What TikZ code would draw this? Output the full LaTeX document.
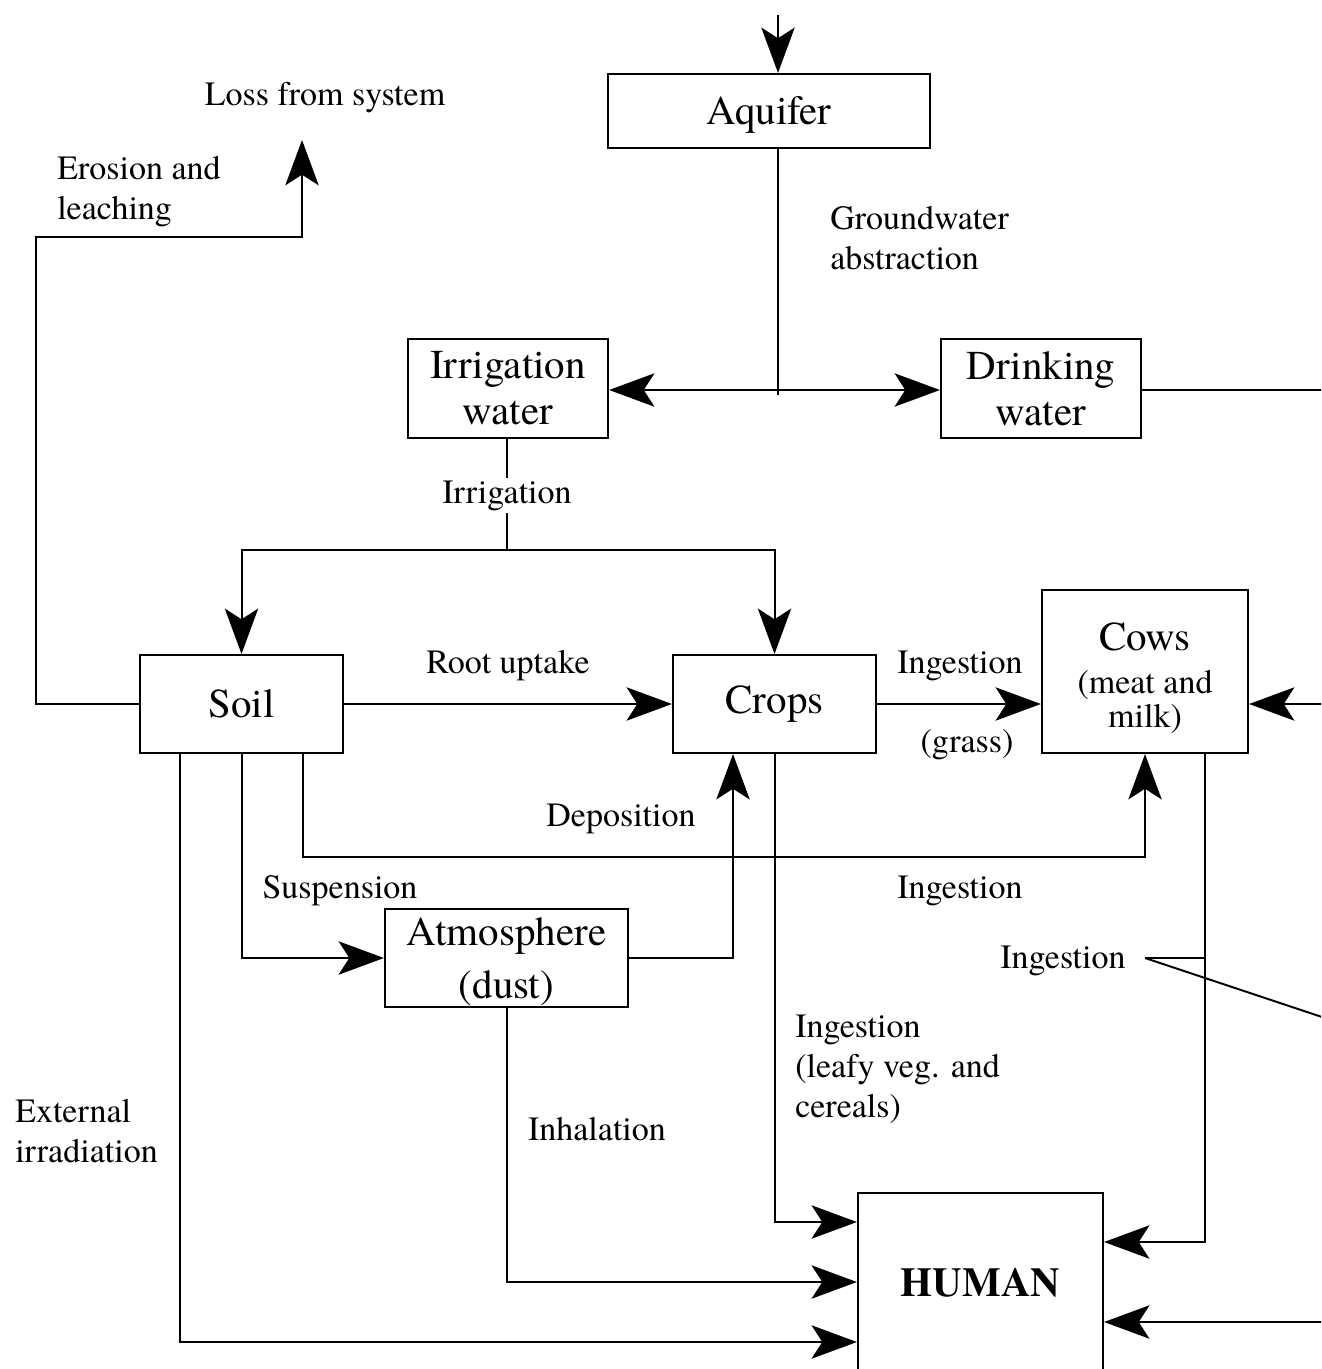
\documentclass[tikz,border=0pt]{standalone}
\usepackage{fontspec}
\setmainfont{texgyretermes}[Extension=.otf, UprightFont=*-regular, BoldFont=*-bold, ItalicFont=*-italic, BoldItalicFont=*-bolditalic]
\usetikzlibrary{arrows.meta,calc}
\begin{document}
\begin{tikzpicture}[x=0.75pt,y=-0.75pt,
  box/.style={draw, line width=1.6pt, inner sep=0pt, align=center, font=\fontsize{30.75}{34.5}\selectfont},
  lbl/.style={inner sep=0pt, font=\fontsize{25.5}{30}\selectfont},
  flow/.style={line width=1.5pt, -{Stealth[length=34pt,width=25pt,inset=8pt]}},
  plain/.style={line width=1.5pt}]
\useasboundingbox (0,0) rectangle (1321,1369);
\clip (0,0) rectangle (1321,1369);

% boxes
\node[box, minimum width=241.5pt, minimum height=55.5pt, text depth=0pt] (aq) at (769,111) {Aquifer};
\node[box, minimum width=150pt, minimum height=74.25pt] (irr) at (508,388.5) {Irrigation\\water};
\node[box, minimum width=150pt, minimum height=74.25pt] (drk) at (1041,388.5) {Drinking\\water};
\node[box, minimum width=152.25pt, minimum height=73.5pt] (soil) at (241.5,704) {Soil};
\node[box, minimum width=152.25pt, minimum height=73.5pt] (crops) at (774.5,704) {Crops};
\node[box, minimum width=154.5pt, minimum height=122.25pt, font=\fontsize{25.5}{26}\selectfont] (cows) at (1145,671.5)
  {{\fontsize{30.75}{34}\selectfont\rule{0pt}{31pt}Cows}\\[6pt](meat and\\milk)};
\node[box, minimum width=182.25pt, minimum height=73.5pt, text depth=0pt] (atm) at (506.5,958) {Atmosphere\\[5pt](dust)};
\node[box, minimum width=183.75pt, minimum height=135pt, font=\fontsize{30.75}{34.5}\selectfont\bfseries] (human) at (980.5,1283) {HUMAN};

% free ends
\coordinate (topin) at (778,15);
\coordinate (split) at (778,390);
\coordinate (drkout) at (1325,390);
\coordinate (irrj) at (507,550);
\coordinate (cowsin) at (1325,704);
\coordinate (loss) at (302,140);
\coordinate (humin) at (1325,1322);
\coordinate (ingj) at (1145,958);
\coordinate (ingk) at (1205,958);
\coordinate (ingout) at (1325,1018);

% connectors
\draw[flow] (topin) -- (topin |- aq.north);
\draw[plain] (topin |- aq.south) -- ($(split)+(0,5)$);
\draw[flow] (split) -- (split -| irr.east);
\draw[flow] (split) -- (split -| drk.west);
\draw[plain] (drk.east |- split) -- (drkout);

\draw[plain] (irrj |- irr.south) -- (irrj);
\draw[flow] (irrj) -| (soil.north);
\draw[flow] (irrj) -| (crops.north);

\draw[flow] (soil.east) -- (crops.west);
\draw[flow] (crops.east) -- (crops.east -| cows.west);
\draw[flow] (cowsin) -- (cowsin -| cows.east);

\draw[flow] (soil.west) -- ++(-103,0) |- ($(loss)+(0,97)$) -- (loss);

\draw[flow] ($(soil.south)+(-61.5,0)$) |- ($(human.west)+(0,59)$);
\draw[flow] (soil.south) |- (atm.west);
\draw[flow] ($(soil.south)+(61.5,0)$) -- ++(0,103) -| (cows.south);

\draw[flow] (atm.east) -| ($(crops.south)+(-41.5,0)$);
\draw[flow] (atm.south) |- ($(human.west)+(0,-1)$);
\draw[flow] (crops.south) |- ($(human.west)+(0,-61)$);
\draw[flow] ($(cows.south)+(60,0)$) |- ($(human.east)+(0,-41)$);
\draw[flow] (humin) -- (humin -| human.east);

\draw[plain] (ingj) -- (ingk);
\draw[plain] (ingj) -- (ingout);

% labels
\node[lbl, anchor=base] (lloss) at (325,106) {Loss from system};
\node[lbl, anchor=west, align=left] (lero) at (57,192) {Erosion and\\leaching};
\node[lbl, anchor=west, align=left] (lgw) at (830,238) {Groundwater\\abstraction};
\node[lbl, anchor=base, fill=white, inner sep=2pt] (lirr) at (507,503) {Irrigation};
\node[lbl, anchor=base] (lroot) at (508,673) {Root uptake};
\node[lbl, anchor=base] (ling1) at (960,673) {Ingestion};
\node[lbl, anchor=base] (lgrass) at (967,752) {(grass)};
\node[lbl, anchor=base] (ldep) at (621,826) {Deposition};
\node[lbl, anchor=base] (lsus) at (340,898) {Suspension};
\node[lbl, anchor=base] (ling2) at (960,898) {Ingestion};
\node[lbl, anchor=base] (ling3) at (1063,968) {Ingestion};
\node[lbl, anchor=west, align=left] (lleafy) at (795,1069) {Ingestion\\(leafy veg. and\\cereals)};
\node[lbl, anchor=base] (linh) at (597,1140) {Inhalation};
\node[lbl, anchor=west, align=left] (lext) at (15,1131) {External\\irradiation};
\end{tikzpicture}
\end{document}
